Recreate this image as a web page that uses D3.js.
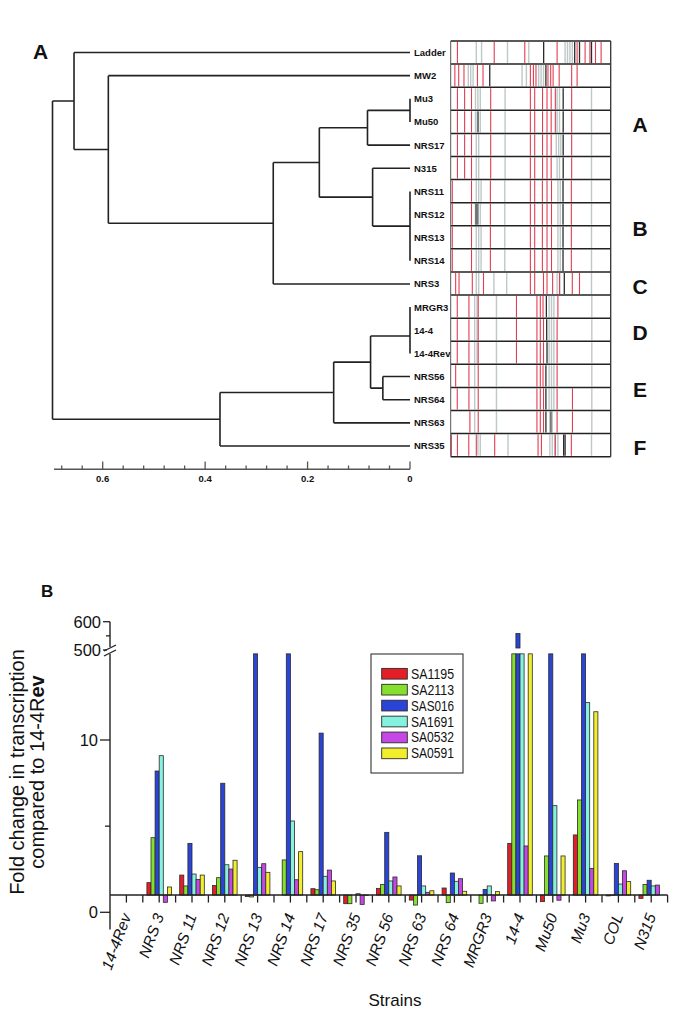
<!DOCTYPE html>
<html><head><meta charset="utf-8">
<script src="https://cdn.jsdelivr.net/npm/d3@7"></script>
<style>
body{margin:0;background:#fff}
svg{display:block}
text{font-family:"Liberation Sans",Arial,Helvetica,sans-serif;fill:#111}
</style>
</head><body>
<svg id="c" width="685" height="1025"></svg>
<script>
// ================= PANEL A DATA =================
const leafOrder = ["Ladder","MW2","Mu3","Mu50","NRS17","N315","NRS11","NRS12","NRS13","NRS14","NRS3","MRGR3","14-4","14-4Rev","NRS56","NRS64","NRS63","NRS35"];

// UPGMA tree: h = linkage distance
const dendroTree = {h:0.698, c:[
  {h:0.656, c:["Ladder", {h:0.589, c:["MW2", {h:0.267, c:[
    {h:0.177, c:[
      {h:0.083, c:[{h:0, c:["Mu3","Mu50"]}, "NRS17"]},
      {h:0.073, c:["N315", {h:0, c:[{h:0, c:["NRS11","NRS12"]}, {h:0, c:["NRS13","NRS14"]}]}]}
    ]},
    "NRS3"]}]}]},
  {h:0.371, c:[
    {h:0.149, c:[
      {h:0.077, c:[{h:0, c:[{h:0, c:["MRGR3","14-4"]}, "14-4Rev"]}, {h:0.053, c:["NRS56","NRS64"]}]},
      "NRS63"]},
    "NRS35"]}
]};

const distTicks = [0,0.04,0.08,0.12,0.16,0.2,0.24,0.28,0.32,0.36,0.4,0.44,0.48,0.52,0.56,0.6,0.64,0.68];
const distLabels = [0,0.2,0.4,0.6];

// gel band positions (relative migration, 0-100) per lane, in leafOrder
const gelRed = [
  [4.2,27.2,46.3,66.5,79,84,87,90.5,94],
  [2.6,5,8.3,16.7,20.2,49.8,51.7,53.3,60.8,62.5,64,67.8,75.6,79],
  [4.2,8.7,13,25,49.8,52.5,57.4,60.2,62.8,65.4,75.6],
  [4.2,8.7,13,25,49.8,52.5,57.4,60.2,62.8,65.4,75.6],
  [4.2,8.7,13,25,49.8,52.5,57.4,60.2,62.8,75.6],
  [4.2,8.7,13,25,49.8,52.5,57.4,60.2,62.8,75.6],
  [1,13,24.8,49.8,52.5,57.3,60.2,63,75.4],
  [1,13,24.8,49.8,52.5,57.3,60.2,63,75.4],
  [1,13,24.8,49.8,52.5,57.3,60.2,63,75.4],
  [1,13,24.8,49.8,52.5,57.3,60.2,63,75.4],
  [3.1,5.2,13.5,20.5,49.8,52.5,58,60.2,63.7,68,76,80.5],
  [4.1,11.4,17.2,41.1,53.9,56,57.7,67],
  [4.1,11.4,17.2,41.1,53.9,56,58,66.5],
  [4.1,11.4,17.2,41.1,53.9,56,58,66.5],
  [3.1,11.4,17.2,53.9,56,57.7,66.5],
  [4.1,11.4,17.2,53.9,56,58,66.5,76.1],
  [12,17.2,53.9,56,58,66.5,76.1],
  [0.4,4.2,11.3,16,27.5,54.6,56.7,65.4,75.4]
];
const gelGray = [
  [16,19.3,35.5,48.8,71.5,73,74.5,76],
  [11,12.5,14,44.6,47.3,55,56.5,58],
  [15.5,17,18.5,34,66.5,68,88],
  [15.5,18.5,34,66.5,68,88],
  [16,17.5,34,66,67.5,68.8,88],
  [16,17.5,34,66.5,68,88],
  [16,17.5,19,33.8,67,68.5,88],
  [18.5,33.8,67,68.5,88],
  [16,17.5,19,33.8,67,68.5,88],
  [16,17.5,19,33.8,67,68.5,88],
  [16,17.5,27,35,66.5,68.2,88],
  [15,16.5,28.6,61.5,63,64.5,88.2],
  [15,16.5,28.6,61.5,63,64.5,88.2],
  [15,16.5,28.6,61.5,63,64.5,88.2],
  [15,28.6,61.5,63,64.5,88.2],
  [15,28.6,61.5,63,64.5,88.2],
  [15,28.6,63.5,88.2],
  [17,18.5,35.8,62,63.5,65,67,88]
];
const gelSmear = [[],[],[],[17],[],[],[],[15.8,16.8],[],[],[],[],[],[],[],[],[62.5],[]];
const gelDark = [
  [58.1,77.5,80.5,88],
  [24.4,59.5],
  [70.3],[70.3],[70.3],[70.3],
  [70.2],[70.2],[70.2],[70.2],
  [71],
  [59.8],[60],[60.2],
  [59.5],[59.5],[59.5],
  [70.6,71.5]
];
const groupLetters = ["A","B","C","D","E","F"];
const groupFirst = ["Mu3","NRS11","NRS3","MRGR3","NRS56","NRS35"];
const groupLast  = ["NRS17","NRS14","NRS3","14-4Rev","NRS64","NRS35"];

// ================= PANEL B DATA =================
const strains = ["14-4Rev","NRS 3","NRS 11","NRS 12","NRS 13","NRS 14","NRS 17","NRS 35","NRS 56","NRS 63","NRS 64","MRGR3","14-4","Mu50","Mu3","COL","N315"];
const genes = ["SA1195","SA2113","SAS016","SA1691","SA0532","SA0591"];
// fold change vs 14-4Rev; 100 = off scale between the axis break (>15, <500)
const SA1195 = [1, 1.72, 2.16, 1.55, 0.91, 1.0, 1.37, 0.5, 1.39, 0.71, 1.41, 1.0, 4.0, 0.62, 4.49, 0.95, 0.81];
const SA2113 = [1, 4.33, 1.53, 2.01, 0.89, 3.04, 1.31, 0.5, 1.62, 0.42, 0.56, 0.52, 100, 3.27, 6.52, 0.97, 1.62];
const SAS016 = [1, 8.2, 4.0, 7.49, 100, 100, 10.4, 1.0, 4.64, 3.28, 2.28, 1.33, 558, 100, 100, 2.84, 1.86];
const SA1691 = [1, 9.09, 2.22, 2.76, 2.61, 5.3, 2.09, 1.08, 1.82, 1.53, 1.8, 1.53, 100, 6.19, 12.17, 1.64, 1.53];
const SA0532 = [1, 0.58, 1.91, 2.51, 2.82, 1.89, 2.45, 0.46, 2.05, 1.16, 1.95, 0.66, 3.85, 0.7, 2.55, 2.41, 1.58];
const SA0591 = [1, 1.47, 2.16, 3.02, 2.32, 3.52, 1.82, 0.97, 1.53, 1.25, 1.22, 1.2, 100, 3.27, 11.64, 1.78, 1.0];
const seriesValues = [SA1195, SA2113, SAS016, SA1691, SA0532, SA0591];
const lowTicks = [0, 5, 10];
const lowTickLabels = ["0", "", "10"];
const highTicks = [500, 550, 600];
const highTickLabels = ["500", "", "600"];

// ================= STYLE =================
const geneColors = ["#e41e26","#84e02c","#2b44d8","#84f2de","#c548e6","#f2ee2c"];
const svg = d3.select("#c");

// ================= PANEL A =================
svg.append("text").attr("x", 33).attr("y", 59).attr("font-size", 21).attr("font-weight", "bold").text("A");

const distScale = d3.scaleLinear().domain([0, 0.6]).range([410, 102.7]);
const rowScale = d3.scalePoint().domain(leafOrder).range([52.5, 446]);

const root = d3.hierarchy(dendroTree, d => typeof d === "string" ? null : d.c);
root.eachAfter(n => {
  if (!n.children) { n.py = rowScale(n.data); n.px = distScale(0); }
  else { n.py = d3.mean(n.children, c => c.py); n.px = distScale(n.data.h); }
});
const tp = d3.path();
root.each(n => {
  if (!n.children) return;
  const ys = n.children.map(c => c.py);
  tp.moveTo(n.px, d3.min(ys)); tp.lineTo(n.px, d3.max(ys));
  n.children.forEach(c => { if (Math.abs(c.px - n.px) > 0.1) { tp.moveTo(n.px, c.py); tp.lineTo(c.px, c.py); } });
});
svg.append("path").attr("d", tp.toString()).attr("fill", "none").attr("stroke", "#222").attr("stroke-width", 1.6);

svg.append("g").selectAll("text").data(root.leaves()).join("text")
  .attr("x", 414).attr("y", d => d.py).attr("dy", "0.36em")
  .attr("font-size", 9.5).attr("font-weight", "bold").text(d => d.data);

// distance axis
const ga = svg.append("g");
ga.append("line").attr("x1", distScale(0.695)).attr("x2", distScale(0)).attr("y1", 469.3).attr("y2", 469.3)
  .attr("stroke", "#555").attr("stroke-width", 1.4);
ga.selectAll("line.t").data(distTicks).join("line").attr("class", "t")
  .attr("x1", d => distScale(d)).attr("x2", d => distScale(d))
  .attr("y1", 469.3).attr("y2", d => distLabels.some(m => Math.abs(m - d) < 1e-9) ? 461.5 : 465.5)
  .attr("stroke", "#555").attr("stroke-width", 1.3);
ga.selectAll("text").data(distLabels).join("text")
  .attr("x", d => distScale(d)).attr("y", 482).attr("text-anchor", "middle")
  .attr("font-size", 9.5).attr("font-weight", "bold").text(d => d === 0 ? "0" : d.toFixed(1));

// gel
const gelX = d3.scaleLinear().domain([0, 100]).range([450.7, 610.7]);
const laneY = d3.scaleBand().domain(leafOrder).range([41, 456.7]);
const gg = svg.append("g");
leafOrder.forEach((name, i) => {
  const y0 = laneY(name) + 1, y1 = laneY(name) + laneY.bandwidth() - 1;
  const lane = gg.append("g");
  lane.selectAll("line.g").data(gelGray[i]).join("line").attr("class", "g")
    .attr("x1", d => gelX(d)).attr("x2", d => gelX(d)).attr("y1", y0).attr("y2", y1)
    .attr("stroke", "#a9b6b6").attr("stroke-width", 1.4).attr("opacity", 0.75);
  lane.selectAll("line.s").data(gelSmear[i]).join("line").attr("class", "s")
    .attr("x1", d => gelX(d)).attr("x2", d => gelX(d)).attr("y1", y0).attr("y2", y1)
    .attr("stroke", "#5d6565").attr("stroke-width", 2.2).attr("opacity", 0.85);
  lane.selectAll("line.r").data(gelRed[i]).join("line").attr("class", "r")
    .attr("x1", d => gelX(d)).attr("x2", d => gelX(d)).attr("y1", y0).attr("y2", y1)
    .attr("stroke", "#e23c50").attr("stroke-width", 1.1);
  lane.selectAll("line.d").data(gelDark[i]).join("line").attr("class", "d")
    .attr("x1", d => gelX(d)).attr("x2", d => gelX(d)).attr("y1", y0).attr("y2", y1)
    .attr("stroke", "#2a2a2a").attr("stroke-width", 1.3);
});
gg.selectAll("line.sep").data(d3.range(leafOrder.length + 1)).join("line").attr("class", "sep")
  .attr("x1", gelX(0)).attr("x2", gelX(100))
  .attr("y1", i => 41 + i * laneY.step()).attr("y2", i => 41 + i * laneY.step())
  .attr("stroke", "#222").attr("stroke-width", 1.5);
gg.append("line").attr("x1", gelX(0)).attr("x2", gelX(0)).attr("y1", 41).attr("y2", 456.7).attr("stroke", "#555").attr("stroke-width", 1);
gg.append("line").attr("x1", gelX(100)).attr("x2", gelX(100)).attr("y1", 41).attr("y2", 456.7).attr("stroke", "#333").attr("stroke-width", 1.3);

svg.append("g").selectAll("text").data(groupLetters).join("text")
  .attr("x", 640).attr("text-anchor", "middle")
  .attr("y", (d, i) => (laneY(groupFirst[i]) + laneY(groupLast[i]) + laneY.bandwidth()) / 2 + 2.5)
  .attr("dy", "0.36em").attr("font-size", 21).attr("font-weight", "bold").text(d => d);

// ================= PANEL B =================
svg.append("text").attr("x", 41).attr("y", 597).attr("font-size", 17).attr("font-weight", "bold").text("B");

const yLow = d3.scaleLinear().domain([0, 10]).range([912.3, 740]);
const yHigh = d3.scaleLinear().domain([500, 600]).range([650, 621.7]);
const CAP = 15, BASE = 1, LOWMIN = -1;
const xB = d3.scaleBand().domain(strains).range([110, 667.6]).paddingInner(0.25).paddingOuter(0.125);
const xG = d3.scaleBand().domain(genes).range([0, xB.bandwidth()]);

const bars = [];
strains.forEach((s, i) => genes.forEach((g, j) => bars.push({s, g, j, v: seriesValues[j][i]})));
const gb = svg.append("g");
gb.selectAll("rect.low").data(bars.filter(b => Math.abs(b.v - BASE) > 0.005)).join("rect").attr("class", "low")
  .attr("x", d => xB(d.s) + xG(d.g)).attr("width", xG.bandwidth())
  .attr("y", d => yLow(Math.min(Math.max(d.v, BASE), CAP)))
  .attr("height", d => Math.abs(yLow(Math.min(d.v, CAP)) - yLow(BASE)))
  .attr("fill", d => geneColors[d.j]).attr("stroke", "#2a2a2a").attr("stroke-width", 0.8);
gb.selectAll("rect.high").data(bars.filter(b => b.v > 500)).join("rect").attr("class", "high")
  .attr("x", d => xB(d.s) + xG(d.g)).attr("width", xG.bandwidth())
  .attr("y", d => yHigh(d.v)).attr("height", d => yHigh(500) - yHigh(d.v) - 2)
  .attr("fill", d => geneColors[d.j]).attr("stroke", "#2a2a2a").attr("stroke-width", 0.8);

// x axis at fold change = 1
const yBase = yLow(BASE);
gb.append("line").attr("x1", 110).attr("x2", 667.6).attr("y1", yBase).attr("y2", yBase).attr("stroke", "#222").attr("stroke-width", 1.4);
const xTickPos = [];
strains.forEach((s, i) => {
  xTickPos.push(xB(s) + xB.bandwidth() / 2);
  xTickPos.push(xB(s) + xB.bandwidth() + xB.step() * xB.paddingInner() / 2);
});
gb.selectAll("line.xt").data(xTickPos).join("line").attr("class", "xt")
  .attr("x1", d => d).attr("x2", d => d).attr("y1", yBase).attr("y2", yBase + 7.5)
  .attr("stroke", "#222").attr("stroke-width", 1.3);
gb.selectAll("text.xl").data(strains).join("text").attr("class", "xl")
  .attr("transform", d => `translate(${xB(d) + xB.bandwidth() / 2 + 5},916) rotate(-70)`)
  .attr("text-anchor", "end").attr("font-size", 15.5).attr("font-style", "italic").text(d => d);
svg.append("text").attr("x", 395).attr("y", 1006).attr("text-anchor", "middle").attr("font-size", 17).text("Strains");

// y axis lower segment
gb.append("line").attr("x1", 110).attr("x2", 110).attr("y1", yLow(LOWMIN)).attr("y2", yLow(CAP))
  .attr("stroke", "#222").attr("stroke-width", 1.4);
gb.selectAll("line.yl").data(lowTicks).join("line").attr("class", "yl")
  .attr("x1", (d, i) => lowTickLabels[i] ? 100 : 105).attr("x2", 110).attr("y1", d => yLow(d)).attr("y2", d => yLow(d))
  .attr("stroke", "#222").attr("stroke-width", 1.3);
gb.selectAll("text.yl").data(lowTicks).join("text").attr("class", "yl")
  .attr("x", 98).attr("y", d => yLow(d)).attr("dy", "0.36em").attr("text-anchor", "end")
  .attr("font-size", 16.5).text((d, i) => lowTickLabels[i]);
// upper segment
gb.append("line").attr("x1", 110).attr("x2", 110).attr("y1", yHigh(500) - 3).attr("y2", yHigh(600))
  .attr("stroke", "#222").attr("stroke-width", 1.4);
gb.selectAll("line.yh").data(highTicks).join("line").attr("class", "yh")
  .attr("x1", (d, i) => highTickLabels[i] ? 103 : 106).attr("x2", 110).attr("y1", d => yHigh(d)).attr("y2", d => yHigh(d))
  .attr("stroke", "#222").attr("stroke-width", 1.3);
gb.selectAll("text.yh").data(highTicks).join("text").attr("class", "yh")
  .attr("x", 101).attr("y", d => yHigh(d)).attr("dy", "0.36em").attr("text-anchor", "end")
  .attr("font-size", 16.5).text((d, i) => highTickLabels[i]);
// break marks
gb.append("rect").attr("x", 107).attr("y", 647.5).attr("width", 6).attr("height", 6).attr("fill", "#fff");
[0, 5].forEach(o => gb.append("line").attr("x1", 104).attr("y1", 651 + o).attr("x2", 116).attr("y2", 645 + o)
  .attr("stroke", "#222").attr("stroke-width", 1.3));

// y title
const yt = svg.append("text").attr("transform", "translate(0,772) rotate(-90)").attr("text-anchor", "middle").attr("font-size", 20);
yt.append("tspan").attr("x", 0).attr("y", 24).text("Fold change in transcription");
const l2 = yt.append("tspan").attr("x", 0).attr("y", 44);
l2.append("tspan").text("compared to 14-4R");
l2.append("tspan").attr("font-weight", "bold").text("ev");

// legend
const lg = svg.append("g");
lg.append("rect").attr("x", 371).attr("y", 654).attr("width", 92).attr("height", 119)
  .attr("fill", "#fff").attr("stroke", "#333").attr("stroke-width", 1.1);
const legY = d3.scalePoint().domain(genes).range([673.7, 753.3]);
lg.selectAll("rect.sw").data(genes).join("rect").attr("class", "sw")
  .attr("x", 381.7).attr("y", d => legY(d) - 5.3).attr("width", 25.6).attr("height", 10.7)
  .attr("fill", (d, i) => geneColors[i]).attr("stroke", "#2a2a2a").attr("stroke-width", 0.9);
lg.selectAll("text").data(genes).join("text")
  .attr("x", 411).attr("y", d => legY(d)).attr("dy", "0.36em")
  .attr("font-size", 14).attr("textLength", 43).attr("lengthAdjust", "spacingAndGlyphs").text(d => d);
</script>
</body></html>
